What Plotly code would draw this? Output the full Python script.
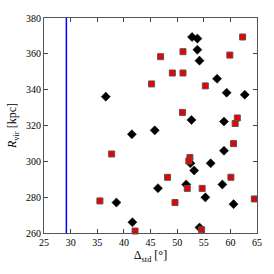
import plotly.graph_objects as go

# Red squares
red_x = [62.3, 51.1, 46.9, 59.9, 49.1, 51.1, 45.2, 55.3, 51.0, 61.3, 60.9, 60.6,
         52.4, 52.2, 48.2, 60.1, 51.9, 54.7, 64.5, 49.6, 54.6, 42.1, 37.7, 35.5]
red_y = [369.4, 361.2, 358.4, 359.3, 349.3, 349.3, 343.2, 342.1, 327.3, 324.2, 321.1, 309.9,
         302.1, 300.2, 291.1, 291.1, 284.9, 284.9, 279.0, 277.0, 261.8, 261.1, 304.1, 277.9]

# Black diamonds
blk_x = [36.6, 41.5, 52.8, 53.8, 53.8, 54.2, 57.5, 59.3, 62.7, 52.7, 58.8, 45.8,
         58.8, 52.5, 56.3, 53.2, 51.7, 58.5, 46.4, 55.3, 60.6, 41.6, 54.2, 38.6]
blk_y = [336.1, 315.1, 369.4, 368.5, 362.3, 356.2, 346.1, 338.3, 337.2, 323.1, 322.2, 317.3,
         305.9, 298.9, 298.9, 294.9, 287.1, 287.1, 285.0, 279.9, 276.1, 266.0, 263.1, 277.0]

# Vertical reference line
vline_x = [29.2, 29.2]
vline_y = [260, 380]

x_ticks = [25, 30, 35, 40, 45, 50, 55, 60, 65]
y_ticks = [260, 280, 300, 320, 340, 360, 380]

FAM = "Liberation Serif, DejaVu Serif, serif"
font = dict(family=FAM, size=10, color="black")

fig = go.Figure()
fig.add_trace(go.Scatter(x=vline_x, y=vline_y, mode="lines",
                         line=dict(color="#0000ff", width=1.5), showlegend=False))
fig.add_trace(go.Scatter(x=blk_x, y=blk_y, mode="markers", showlegend=False, cliponaxis=False,
                         marker=dict(symbol="diamond", size=7, color="black",
                                     line=dict(color="black", width=0.5))))
fig.add_trace(go.Scatter(x=red_x, y=red_y, mode="markers", showlegend=False, cliponaxis=False,
                         marker=dict(symbol="square", size=6, color="#ee0000",
                                     line=dict(color="#555555", width=1))))

axis_common = dict(showgrid=False, zeroline=False, ticks="inside", ticklen=4,
                   tickwidth=1, tickcolor="#444444", showline=True, linecolor="#555555",
                   linewidth=1.2, mirror="ticks", tickfont=font, ticklabeloverflow="allow")

fig.update_xaxes(range=[25, 65], tickvals=x_ticks, ticktext=[str(v) for v in x_ticks],
                 title=dict(text="Δ<sub>std</sub> [°]", font=dict(family=FAM, size=12, color="black"),
                            standoff=1),
                 **axis_common)
fig.update_yaxes(range=[260, 380], tickvals=y_ticks, ticktext=[str(v) for v in y_ticks],
                 title=dict(text="<i>R</i><sub>vir</sub> [kpc]", font=dict(family=FAM, size=12, color="black"),
                            standoff=6),
                 **axis_common)

fig.update_layout(width=274, height=274, margin=dict(l=42, r=14, t=14, b=41),
                  paper_bgcolor="white", plot_bgcolor="white", font=font)

fig.write_html("out.html", config={"displayModeBar": False},
               post_script="document.body.style.margin='0';document.body.style.padding='0';")
